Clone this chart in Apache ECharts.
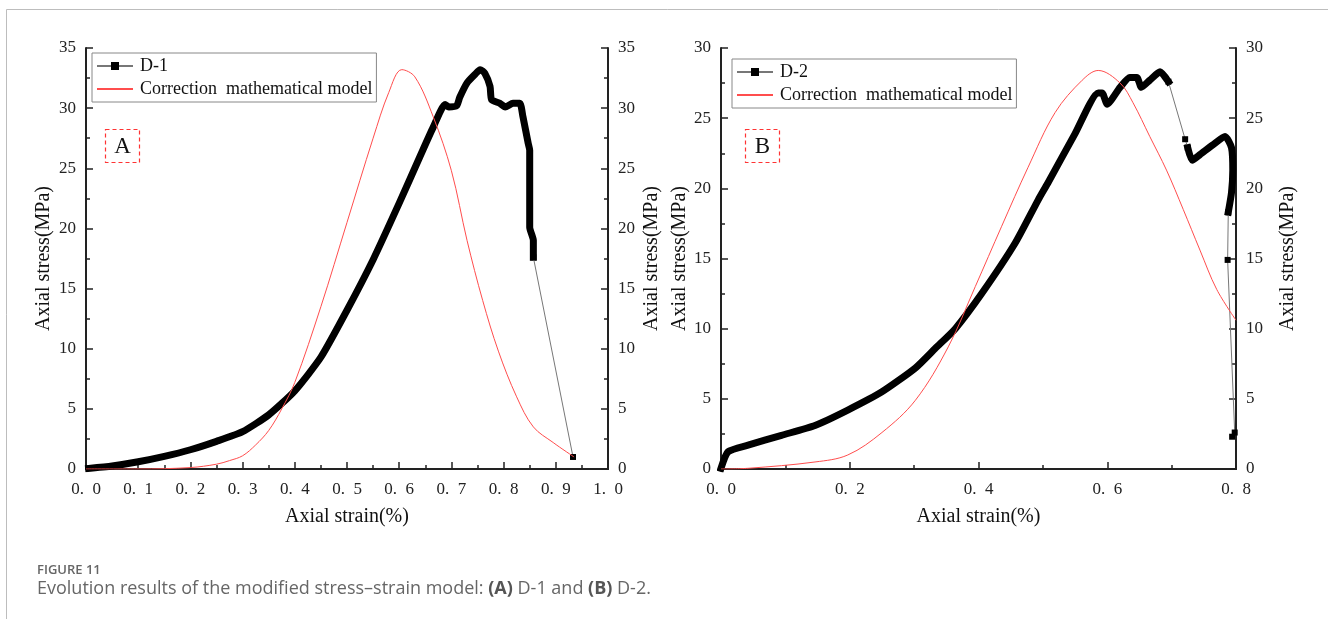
<!DOCTYPE html>
<html lang="en">
<head>
<meta charset="UTF-8">
<title>Figure 11</title>
<script src="https://cdn.jsdelivr.net/npm/echarts@6/dist/echarts.min.js"></script>
<style>
html, body { margin: 0; padding: 0; background: #fff; }
#main { width: 1328px; height: 619px; }
</style>
</head>
<body>
<div id="main"></div>
<script>
// D-1 test curve (strain %, stress MPa)
var d1Curve = [[0.005,0.05],[0.05,0.25],[0.1,0.6],[0.15,1.05],[0.2,1.6],[0.25,2.3],[0.3,3.1],
  [0.35,4.5],[0.4,6.5],[0.45,9.3],[0.5,13.2],[0.55,17.4],[0.6,22.1],[0.64,26.0],[0.665,28.4],
  [0.688,30.3],[0.695,30.1],[0.71,30.2],[0.716,30.9],[0.73,32.1],[0.745,32.8],[0.755,33.2],
  [0.764,32.9],[0.774,31.8],[0.777,30.7],[0.793,30.4],[0.803,30.1],[0.818,30.4],[0.831,30.4],
  [0.837,29.3],[0.847,27.1],[0.85,26.5],[0.85,20.1],[0.857,19.0],[0.857,17.6]];
var d1Gap = [[0.857,17.6],[0.933,1.0]];
var m1Curve = [[0.0,0],[0.1,0.0],[0.2,0.12],[0.25,0.4],[0.275,0.7],[0.3,1.1],[0.325,2.0],[0.35,3.2],
  [0.375,5.0],[0.4,7.2],[0.45,13.5],[0.5,20.5],[0.55,27.5],[0.58,31.3],[0.605,33.2],[0.63,32.6],
  [0.665,29.3],[0.7,24.8],[0.73,19.0],[0.76,14.0],[0.79,9.8],[0.825,6.0],[0.857,3.5],[0.895,2.2],
  [0.935,1.0]];

// D-2 test curve
var d2Curve = [[0.0,0.05],[0.011,1.23],[0.042,1.7],[0.094,2.4],[0.146,3.1],[0.197,4.2],[0.25,5.5],
  [0.302,7.2],[0.333,8.6],[0.364,10.0],[0.405,12.5],[0.457,16.1],[0.493,19.2],[0.508,20.4],
  [0.55,23.9],[0.586,26.8],[0.592,26.8],[0.6,26.0],[0.62,27.2],[0.635,27.9],[0.646,27.9],
  [0.653,27.2],[0.666,27.7],[0.682,28.3],[0.695,27.6]];
var d2Tail = [[0.725,22.9],[0.732,22.0],[0.744,22.4],[0.764,23.1],[0.783,23.7],[0.793,22.9],
  [0.795,21.3],[0.793,19.7],[0.788,18.3]];
var d2Gap = [[0.695,27.6],[0.721,23.5],[0.725,22.9]];
var d2Gap2 = [[0.788,18.3],[0.787,14.9],[0.798,2.6],[0.794,2.3]];
var m2Curve = [[0.0,0],[0.042,0.05],[0.146,0.5],[0.197,1.0],[0.25,2.6],[0.302,4.9],[0.353,8.7],
  [0.395,13.0],[0.436,17.3],[0.477,21.5],[0.519,25.4],[0.561,27.7],[0.586,28.4],[0.62,27.5],
  [0.64,26.1],[0.666,23.7],[0.692,21.3],[0.718,18.5],[0.744,15.6],[0.77,12.8],[0.8,10.6]];

var modelName = 'Correction  mathematical model';
var serif = 'Liberation Serif';
var axisColor = '#222';

function fmtX(v) { return v.toFixed(1).replace('.', '.\u2002'); }

function bottomAxis(grid, max, interval) {
  return {
    type: 'value', gridIndex: grid, min: 0, max: max, interval: interval, position: 'bottom',
    name: 'Axial strain(%)', nameLocation: 'middle', nameGap: 38, nameMoveOverlap: false,
    nameTextStyle: { fontFamily: serif, fontSize: 20, color: '#111' },
    axisLine: { lineStyle: { color: axisColor, width: 2 } },
    axisTick: { inside: true, length: 7, lineStyle: { color: axisColor, width: 1.5 } },
    minorTick: { show: true, splitNumber: 2, length: 4, lineStyle: { color: axisColor, width: 1.5 } },
    axisLabel: { margin: 12, fontFamily: serif, fontSize: 17, color: '#222', formatter: fmtX },
    splitLine: { show: false }
  };
}
function topAxis(grid, max) {
  return {
    type: 'value', gridIndex: grid, min: 0, max: max, position: 'top',
    axisLine: { lineStyle: { color: axisColor, width: 2 } },
    axisTick: { show: false }, axisLabel: { show: false }, splitLine: { show: false }
  };
}
function yAxis(grid, max, pos, gap) {
  return {
    type: 'value', gridIndex: grid, min: 0, max: max, interval: 5, position: pos,
    name: 'Axial stress(MPa)', nameLocation: 'middle', nameGap: gap, nameMoveOverlap: false,
    nameRotate: 90,
    nameTextStyle: { fontFamily: serif, fontSize: 20, color: '#111' },
    axisLine: { onZero: false, lineStyle: { color: axisColor, width: 2 } },
    axisTick: { inside: true, length: 7, lineStyle: { color: axisColor, width: 1.5 } },
    minorTick: { show: true, splitNumber: 2, length: 4, lineStyle: { color: axisColor, width: 1.5 } },
    axisLabel: { margin: 10, fontFamily: serif, fontSize: 17, color: '#222' },
    splitLine: { show: false }
  };
}

function gapSeries(name, xi, yi, data) {
  return {
    name: name, type: 'line', xAxisIndex: xi, yAxisIndex: yi, data: data,
    symbol: 'rect', symbolSize: 6, itemStyle: { color: '#000' },
    lineStyle: { color: '#777', width: 1 }, z: 3, animation: false
  };
}
function thickSeries(name, xi, yi, data) {
  return {
    name: name, type: 'line', xAxisIndex: xi, yAxisIndex: yi, data: data,
    symbol: 'rect', showSymbol: false, smooth: 0.2, itemStyle: { color: '#000' },
    lineStyle: { color: '#000', width: 7, cap: 'square', join: 'round' }, z: 2, animation: false
  };
}
function modelSeries(xi, yi, data) {
  return {
    name: modelName, type: 'line', xAxisIndex: xi, yAxisIndex: yi, data: data,
    symbol: 'none', smooth: 0.35, itemStyle: { color: '#ff4d4d' },
    lineStyle: { color: '#ff4d4d', width: 1 }, z: 4, animation: false
  };
}

function legend(left, top, first) {
  return {
    orient: 'vertical', left: left, top: top,
    data: [first, { name: modelName, itemStyle: { opacity: 0 } }],
    borderColor: '#888', borderWidth: 1, padding: [4, 4, 4, 4], itemGap: 5,
    itemWidth: 36, itemHeight: 10, selectedMode: false,
    textStyle: { fontFamily: serif, fontSize: 18, color: '#111', padding: [0, 0, 0, 2] }
  };
}

function tagBox(x, y, letter) {
  return {
    type: 'group', left: x, top: y,
    children: [
      { type: 'rect', shape: { x: 0, y: 0, width: 34, height: 33 },
        style: { fill: 'none', stroke: '#ff3333', lineWidth: 1.2, lineDash: [4, 3] } },
      { type: 'text', x: 17, y: 17, style: { text: letter, font: '23px "Liberation Serif"',
        fill: '#111', textAlign: 'center', textVerticalAlign: 'middle' } }
    ]
  };
}

var chart = echarts.init(document.getElementById('main'));
chart.setOption({
  backgroundColor: '#fff',
  animation: false,
  grid: [
    { left: 86, right: 720, top: 48, bottom: 150 },
    { left: 721, right: 92, top: 48, bottom: 150 }
  ],
  legend: [legend(92, 53, 'D-1'), legend(732, 59, 'D-2')],
  xAxis: [bottomAxis(0, 1.0, 0.1), topAxis(0, 1.0), bottomAxis(1, 0.8, 0.2), topAxis(1, 0.8)],
  yAxis: [yAxis(0, 35, 'left', 32), yAxis(0, 35, 'right', 34), yAxis(1, 30, 'left', 31), yAxis(1, 30, 'right', 42)],
  series: [
    gapSeries('D-1', 0, 0, d1Gap),
    thickSeries('D-1', 0, 0, d1Curve),
    modelSeries(0, 0, m1Curve),
    gapSeries('D-2', 2, 2, d2Gap),
    gapSeries('D-2', 2, 2, d2Gap2),
    thickSeries('D-2', 2, 2, d2Curve),
    thickSeries('D-2', 2, 2, d2Tail),
    modelSeries(2, 2, m2Curve)
  ],
  graphic: [
    { type: 'rect', left: 4, top: 7, silent: true,
      shape: { width: 1323, height: 640 }, style: { fill: 'none', stroke: '#bdbdbd', lineWidth: 1 } },
    tagBox(103, 127, 'A'),
    tagBox(743, 127, 'B'),
    { type: 'text', left: 37, top: 564, style: { text: 'FIGURE 11',
      font: '600 13px "Open Sans"', fill: '#666' } },
    { type: 'text', left: 37, top: 580, style: {
      text: 'Evolution results of the modified stress\u2013strain model: {b|(A)} D-1 and {b|(B)} D-2.',
      font: '18px "Open Sans"', fill: '#666',
      rich: { b: { fontFamily: 'Open Sans', fontWeight: 'bold', fontSize: 18, fill: '#555' } } } }
  ]
});
</script>
</body>
</html>
